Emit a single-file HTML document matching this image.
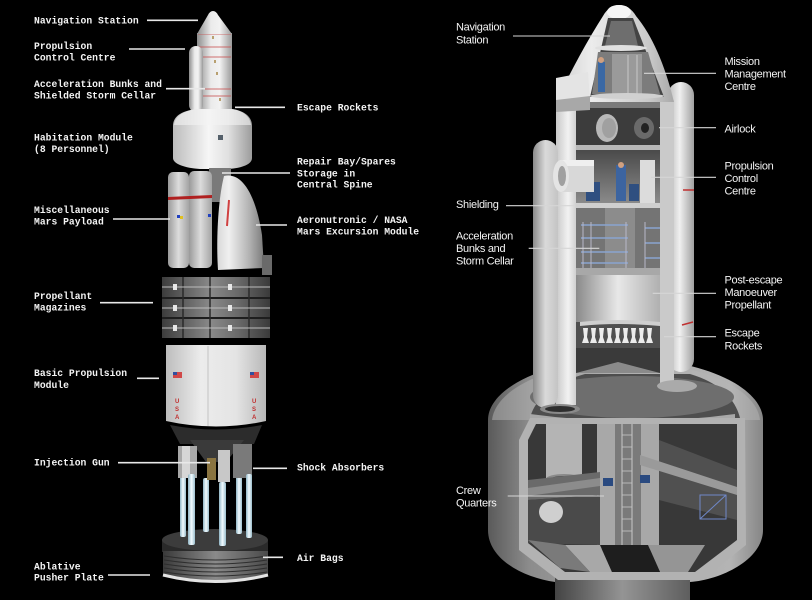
<!DOCTYPE html>
<html><head><meta charset="utf-8">
<style>
html,body{margin:0;padding:0;background:#000;}
svg{display:block}
.m{font-family:"Liberation Mono",monospace;font-weight:bold;font-size:9.7px;fill:#f4f4f4;}
.s{font-family:"Liberation Sans",sans-serif;font-size:11px;letter-spacing:-0.3px;fill:#f4f4f4;}
.ll{stroke:#e8e8e8;stroke-width:1.6;}
.rl{stroke:#d6d6d6;stroke-width:1.1;}
</style></head>
<body>
<svg width="812" height="600" viewBox="0 0 812 600" xmlns="http://www.w3.org/2000/svg">
<defs>
 <linearGradient id="cyl" x1="0" x2="1" y1="0" y2="0">
  <stop offset="0" stop-color="#8c8c8c"/><stop offset="0.4" stop-color="#ebebeb"/><stop offset="0.65" stop-color="#f2f2f2"/><stop offset="1" stop-color="#9a9a9a"/>
 </linearGradient>
 <linearGradient id="hab" x1="0" x2="1" y1="0" y2="0">
  <stop offset="0" stop-color="#bcbcbc"/><stop offset="0.45" stop-color="#f6f6f6"/><stop offset="0.7" stop-color="#e0e0e0"/><stop offset="1" stop-color="#9c9c9c"/>
 </linearGradient>
 <linearGradient id="pay" x1="0" x2="1" y1="0" y2="0">
  <stop offset="0" stop-color="#9a9a9a"/><stop offset="0.5" stop-color="#dcdcdc"/><stop offset="1" stop-color="#a4a4a4"/>
 </linearGradient>
 <linearGradient id="mem" x1="0" x2="1" y1="0" y2="0">
  <stop offset="0" stop-color="#d8d8d8"/><stop offset="0.25" stop-color="#f0f0f0"/><stop offset="0.7" stop-color="#b0b0b0"/><stop offset="1" stop-color="#7a7a7a"/>
 </linearGradient>
 <linearGradient id="mag" x1="0" x2="1" y1="0" y2="0">
  <stop offset="0" stop-color="#3c3c3c"/><stop offset="0.45" stop-color="#8a8a8a"/><stop offset="0.7" stop-color="#6a6a6a"/><stop offset="1" stop-color="#3a3a3a"/>
 </linearGradient>
 <linearGradient id="bpm" x1="0" x2="1" y1="0" y2="0">
  <stop offset="0" stop-color="#bdbdbd"/><stop offset="0.35" stop-color="#ececec"/><stop offset="0.7" stop-color="#e4e4e4"/><stop offset="1" stop-color="#b8b8b8"/>
 </linearGradient>
 <linearGradient id="pil" x1="0" x2="1" y1="0" y2="0">
  <stop offset="0" stop-color="#8fb4c4"/><stop offset="0.5" stop-color="#f2fbff"/><stop offset="1" stop-color="#9cbecc"/>
 </linearGradient>
 <linearGradient id="bag" x1="0" x2="1" y1="0" y2="0">
  <stop offset="0" stop-color="#3a3a3a"/><stop offset="0.5" stop-color="#8a8a8a"/><stop offset="1" stop-color="#4a4a4a"/>
 </linearGradient>
 <linearGradient id="rtube" x1="0" x2="1" y1="0" y2="0">
  <stop offset="0" stop-color="#b8b8b8"/><stop offset="0.45" stop-color="#f0f0f0"/><stop offset="1" stop-color="#a0a0a0"/>
 </linearGradient>
 <linearGradient id="ltube" x1="0" x2="1" y1="0" y2="0">
  <stop offset="0" stop-color="#8a8a8a"/><stop offset="0.5" stop-color="#dadada"/><stop offset="1" stop-color="#c4c4c4"/>
 </linearGradient>
 <linearGradient id="wall" x1="0" x2="1" y1="0" y2="0">
  <stop offset="0" stop-color="#c8c8c8"/><stop offset="0.6" stop-color="#f2f2f2"/><stop offset="1" stop-color="#d0d0d0"/>
 </linearGradient>
 <linearGradient id="cone" x1="0" x2="1" y1="0" y2="0">
  <stop offset="0" stop-color="#cfcfcf"/><stop offset="0.3" stop-color="#ececec"/><stop offset="0.8" stop-color="#c8c8c8"/><stop offset="1" stop-color="#a8a8a8"/>
 </linearGradient>
 <linearGradient id="sph" x1="0" x2="1" y1="0" y2="0">
  <stop offset="0" stop-color="#5a5a5a"/><stop offset="0.15" stop-color="#8c8c8c"/><stop offset="0.5" stop-color="#a8a8a8"/><stop offset="0.88" stop-color="#b4b4b4"/><stop offset="1" stop-color="#868686"/>
 </linearGradient>
 <linearGradient id="tank" x1="0" x2="1" y1="0" y2="0">
  <stop offset="0" stop-color="#8a8a8a"/><stop offset="0.5" stop-color="#e8e8e8"/><stop offset="1" stop-color="#b0b0b0"/>
 </linearGradient>
 <linearGradient id="neck" x1="0" x2="1" y1="0" y2="0">
  <stop offset="0" stop-color="#444"/><stop offset="0.5" stop-color="#949494"/><stop offset="1" stop-color="#5e5e5e"/>
 </linearGradient>
 <linearGradient id="room" x1="0" x2="0" y1="0" y2="1">
  <stop offset="0" stop-color="#4a4a4a"/><stop offset="1" stop-color="#8a8a8a"/>
 </linearGradient>
</defs>

<rect width="812" height="600" fill="#000"/>

<!-- ================= LEFT ROCKET ================= -->
<rect x="197" y="33" width="35" height="80" fill="url(#cyl)"/>
<g stroke="#c85050" stroke-width="1" opacity="0.8">
 <line x1="198" y1="34" x2="231" y2="34"/><line x1="198" y1="47" x2="231" y2="47"/>
 <line x1="198" y1="57" x2="231" y2="57"/><line x1="198" y1="89" x2="231" y2="89"/>
 <line x1="198" y1="96" x2="231" y2="96"/>
</g>
<g fill="#b8a070"><rect x="212" y="36" width="2" height="3"/><rect x="214" y="60" width="2" height="3"/><rect x="216" y="72" width="2" height="3"/><rect x="219" y="98" width="2" height="3"/></g>
<path d="M213 11 Q210 11 208 15 L197 34 L232 34 L218 15 Q216 11 213 11 Z" fill="url(#cyl)"/>
<rect x="189" y="46" width="14" height="66" rx="7" fill="url(#cyl)"/>
<path d="M197 109 C180 111 173 117 173 126 L173 158 C173 164 185 168 200 169 L228 169 C243 168 252 164 252 158 L252 126 C252 117 245 111 232 109 Z" fill="url(#hab)"/>
<path d="M197 109 C182 111 175 117 174 125 L251 125 C250 117 244 111 232 109 Z" fill="#f4f4f4" opacity="0.6"/>
<rect x="218" y="135" width="5" height="5" fill="#55606a"/>
<rect x="209" y="168" width="22" height="34" fill="#7a7a7a"/>
<rect x="168" y="172" width="21" height="96" rx="5" fill="url(#pay)"/>
<rect x="189" y="171" width="23" height="97" rx="5" fill="url(#pay)"/>
<path d="M168 197 L212 195 L212 198 L168 200 Z" fill="#b02020"/>
<rect x="177" y="215" width="3" height="3" fill="#2040c0"/><rect x="180" y="216" width="3" height="3" fill="#e0c020"/>
<rect x="208" y="214" width="3" height="3" fill="#2040c0"/>
<path d="M224 176 C240 172 255 190 262 235 L264 268 L218 270 C216 240 218 200 224 176 Z" fill="url(#mem)"/>
<line x1="229" y1="200" x2="227" y2="226" stroke="#d04040" stroke-width="2"/>
<rect x="262" y="255" width="10" height="20" fill="#6a6a6a"/>
<rect x="162" y="277" width="108" height="61" fill="url(#mag)"/>
<g stroke="#1e1e1e" stroke-width="2"><line x1="162" y1="298" x2="270" y2="298"/><line x1="162" y1="318" x2="270" y2="318"/></g>
<g stroke="#2a2a2a" stroke-width="1.5"><line x1="183" y1="277" x2="183" y2="338"/><line x1="210" y1="277" x2="210" y2="338"/><line x1="249" y1="277" x2="249" y2="338"/></g>
<g stroke="#bcbcbc" stroke-width="1"><line x1="162" y1="287" x2="270" y2="287"/><line x1="162" y1="308" x2="270" y2="308"/><line x1="162" y1="328" x2="270" y2="328"/></g>
<g fill="#e8e8e8"><rect x="173" y="284" width="4" height="6"/><rect x="228" y="284" width="4" height="6"/><rect x="173" y="305" width="4" height="6"/><rect x="228" y="305" width="4" height="6"/><rect x="173" y="325" width="4" height="6"/><rect x="228" y="325" width="4" height="6"/></g>
<path d="M166 345 L266 345 L266 421 Q216 432 166 421 Z" fill="url(#bpm)"/>
<line x1="208" y1="346" x2="208" y2="426" stroke="#c4c4c4" stroke-width="1"/>
<rect x="173" y="372" width="9" height="6" fill="#d04848"/><rect x="173" y="372" width="4" height="3" fill="#3050a0"/>
<rect x="250" y="372" width="9" height="6" fill="#d04848"/><rect x="250" y="372" width="4" height="3" fill="#3050a0"/>
<g font-family="Liberation Sans,sans-serif" font-size="6" fill="#c03030" font-weight="bold">
 <text x="175" y="403">U</text><text x="175" y="411">S</text><text x="175" y="419">A</text>
 <text x="252" y="403">U</text><text x="252" y="411">S</text><text x="252" y="419">A</text>
</g>
<path d="M170 425 Q216 434 262 425 L254 444 L180 444 Z" fill="#2c2c2c"/>
<path d="M190 440 L244 440 L226 462 L206 462 Z" fill="#3a3a3a"/>
<rect x="162" y="540" width="106" height="12" fill="#2a2a2a"/>
<ellipse cx="215" cy="540" rx="53" ry="11" fill="#3c3c3c"/>
<rect x="203" y="478" width="6" height="54" rx="2" fill="url(#pil)"/>
<rect x="236" y="470" width="6" height="64" rx="2" fill="url(#pil)"/>
<rect x="180" y="470" width="6" height="67" rx="2" fill="url(#pil)"/>
<rect x="178" y="446" width="19" height="32" fill="#a8a8a8"/>
<rect x="182" y="446" width="8" height="32" fill="#d6d6d6"/>
<rect x="233" y="444" width="19" height="34" fill="#7a7a7a"/>
<rect x="207" y="458" width="9" height="22" fill="#8a7440"/>
<rect x="218" y="450" width="12" height="32" fill="#c8c8c8"/>
<rect x="188" y="474" width="7" height="71" rx="2" fill="url(#pil)"/>
<rect x="219" y="482" width="7" height="64" rx="2" fill="url(#pil)"/>
<rect x="246" y="474" width="6" height="64" rx="2" fill="url(#pil)"/>
<path d="M163 551 L268 551 L268 575 Q215 586 163 575 Z" fill="url(#bag)"/>
<g stroke="#2e2e2e" stroke-width="1">
 <path d="M164 556 Q215 564 267 556" fill="none"/><path d="M164 560 Q215 568 267 560" fill="none"/>
 <path d="M164 564 Q215 572 267 564" fill="none"/><path d="M164 568 Q215 576 267 568" fill="none"/>
 <path d="M164 572 Q215 580 267 572" fill="none"/>
</g>
<path d="M163 575 Q215 588 268 575" fill="none" stroke="#e4e4e4" stroke-width="3"/>

<!-- ================= RIGHT CUTAWAY ================= -->
<path d="M488 530 L488 420 C488 390 540 360 625 358 C715 360 763 392 763 420 L763 530 C763 560 720 580 690 582 L555 582 C525 578 488 560 488 530 Z" fill="url(#sph)"/>
<path d="M492 420 C495 392 540 364 625 361 C712 364 757 392 760 420 Z" fill="#b6b6b6" opacity="0.5"/>
<rect x="555" y="572" width="135" height="28" fill="url(#neck)"/>
<path d="M530 418 C535 398 555 382 585 374 L690 374 C718 382 735 398 740 418 Z" fill="#4e4e4e"/>
<ellipse cx="632" cy="397" rx="102" ry="21" fill="#6e6e6e"/>
<path d="M530 414 Q632 428 735 414 L735 420 Q632 434 530 420 Z" fill="#a8a8a8"/>
<path d="M519 550 L519 440 L530 418 L745 418 L746 545 L702 580 L558 580 Z" fill="#b2b2b2"/>
<path d="M528 543 L528 440 L536 424 L737 424 L737 540 L695 572 L565 572 Z" fill="#383838"/>
<rect x="546" y="424" width="36" height="56" fill="#b4b4b4"/>
<ellipse cx="564" cy="479" rx="18" ry="5" fill="#8a8a8a"/>
<ellipse cx="564" cy="479" rx="13" ry="3" fill="#333"/>
<rect x="597" y="424" width="62" height="125" fill="#a8a8a8"/>
<rect x="615" y="424" width="26" height="125" fill="#7a7a7a"/>
<g stroke="#c8c8c8" stroke-width="1"><line x1="622" y1="424" x2="622" y2="570"/><line x1="632" y1="424" x2="632" y2="570"/></g>
<g stroke="#c8c8c8" stroke-width="0.8"><line x1="622" y1="435" x2="632" y2="435"/><line x1="622" y1="447" x2="632" y2="447"/><line x1="622" y1="459" x2="632" y2="459"/><line x1="622" y1="471" x2="632" y2="471"/><line x1="622" y1="483" x2="632" y2="483"/><line x1="622" y1="495" x2="632" y2="495"/><line x1="622" y1="507" x2="632" y2="507"/><line x1="622" y1="519" x2="632" y2="519"/><line x1="622" y1="531" x2="632" y2="531"/></g>
<path d="M659 440 L737 470 L737 520 L659 500 Z" fill="#505050"/>
<path d="M528 480 L600 472 L600 495 L528 500 Z" fill="#6a6a6a"/>
<path d="M528 500 L600 495 L600 545 L528 543 Z" fill="#4a4a4a"/>
<ellipse cx="551" cy="512" rx="12" ry="11" fill="#cfcfcf"/>
<path d="M640 455 L737 487 L737 495 L640 465 Z" fill="#9a9a9a"/>
<path d="M528 488 L600 478 L600 486 L528 496 Z" fill="#8c8c8c"/>
<g stroke="#6f88c8" stroke-width="1" fill="none"><rect x="700" y="495" width="26" height="24"/><line x1="700" y1="519" x2="726" y2="495"/></g>
<rect x="603" y="478" width="10" height="8" fill="#2a4a80"/><rect x="640" y="475" width="10" height="8" fill="#2a4a80"/>
<path d="M565 545 L600 545 L612 572 L590 572 Z" fill="#a8a8a8"/>
<path d="M648 545 L705 545 L688 572 L660 572 Z" fill="#959595"/>
<path d="M600 545 L648 545 L660 572 L612 572 Z" fill="#1e1e1e"/>
<path d="M528 540 L565 545 L590 572 L560 568 Z" fill="#7a7a7a"/>

<rect x="668" y="82" width="26" height="290" rx="13" fill="url(#rtube)"/>
<line x1="683" y1="190" x2="694" y2="190" stroke="#c03030" stroke-width="1.5"/>
<line x1="682" y1="325" x2="693" y2="322" stroke="#c03030" stroke-width="1.5"/>
<rect x="556" y="100" width="20" height="305" fill="url(#wall)"/>
<rect x="660" y="100" width="14" height="288" fill="#cacaca"/>
<ellipse cx="677" cy="386" rx="20" ry="6" fill="#aaaaaa"/>
<rect x="533" y="140" width="25" height="268" rx="12.5" fill="url(#ltube)"/>
<ellipse cx="560" cy="409" rx="20" ry="5" fill="#8a8a8a"/>
<ellipse cx="560" cy="409" rx="15" ry="3" fill="#2e2e2e"/>
<rect x="576" y="100" width="84" height="10" fill="#7a7a7a"/>
<rect x="576" y="108" width="84" height="38" fill="#3c3c3c"/>
<ellipse cx="607" cy="128" rx="11" ry="14" fill="#b8b8b8"/>
<ellipse cx="609" cy="128" rx="7" ry="10" fill="#a0a0a0"/>
<ellipse cx="644" cy="128" rx="10" ry="11" fill="#6a6a6a"/>
<ellipse cx="645" cy="128" rx="4" ry="5" fill="#222"/>
<rect x="576" y="145" width="84" height="5" fill="#b8b8b8"/>
<rect x="576" y="150" width="84" height="53" fill="url(#room)"/>
<rect x="640" y="160" width="15" height="43" fill="#dcdcdc"/>
<rect x="616" y="165" width="10" height="36" fill="#3c64a0"/>
<circle cx="621" cy="165" r="3" fill="#d0a080"/>
<rect x="586" y="182" width="14" height="19" fill="#2f4f80"/>
<rect x="629" y="184" width="10" height="17" fill="#2f4f80"/>
<rect x="560" y="160" width="34" height="32" fill="#d8d8d8"/>
<rect x="560" y="160" width="34" height="6" fill="#efefef"/>
<ellipse cx="561" cy="176" rx="8" ry="16" fill="#e4e4e4"/>
<ellipse cx="562" cy="176" rx="4" ry="10" fill="#a0a0a0"/>
<rect x="576" y="203" width="84" height="5" fill="#cfcfcf"/>
<rect x="576" y="208" width="84" height="60" fill="#747474"/>
<rect x="605" y="208" width="30" height="60" fill="#8c8c8c"/>
<g stroke="#8aa4d0" stroke-width="1.5"><line x1="581" y1="225" x2="628" y2="225"/><line x1="581" y1="238" x2="628" y2="238"/><line x1="581" y1="252" x2="628" y2="252"/><line x1="581" y1="263" x2="628" y2="263"/>
<line x1="645" y1="228" x2="660" y2="228"/><line x1="645" y1="243" x2="660" y2="243"/><line x1="645" y1="258" x2="660" y2="258"/></g>
<g stroke="#b8b8c8" stroke-width="1"><line x1="583" y1="222" x2="583" y2="268"/><line x1="591" y1="222" x2="591" y2="268"/><line x1="626" y1="222" x2="626" y2="268"/><line x1="645" y1="222" x2="645" y2="268"/></g>
<rect x="576" y="268" width="84" height="7" fill="#a8a8a8"/>
<rect x="576" y="275" width="84" height="47" fill="url(#tank)"/>
<rect x="576" y="322" width="84" height="26" fill="#505050"/>
<path d="M580 322 Q618 318 660 322 L660 326 Q618 322 580 326 Z" fill="#cfcfcf"/>
<g fill="#ececec">
 <path d="M583 328 h5 l-1 9 l2 6 h-7 l2 -6 z"/><path d="M591 328 h5 l-1 9 l2 6 h-7 l2 -6 z"/><path d="M599 328 h5 l-1 9 l2 6 h-7 l2 -6 z"/><path d="M607 328 h5 l-1 9 l2 6 h-7 l2 -6 z"/><path d="M615 328 h5 l-1 9 l2 6 h-7 l2 -6 z"/><path d="M623 328 h5 l-1 9 l2 6 h-7 l2 -6 z"/><path d="M631 328 h5 l-1 9 l2 6 h-7 l2 -6 z"/><path d="M639 328 h5 l-1 9 l2 6 h-7 l2 -6 z"/><path d="M647 328 h5 l-1 9 l2 6 h-7 l2 -6 z"/>
</g>
<rect x="576" y="348" width="84" height="25" fill="#3a3a3a"/>
<path d="M576 373 L618 362 L660 373 Z" fill="#8a8a8a"/>
<path d="M619 5 C612 5 607 9 603 16 Q580 52 556 102 L674 102 Q660 45 636 16 C632 9 626 5 619 5 Z" fill="url(#cone)"/>
<ellipse cx="619" cy="12" rx="12" ry="7" fill="#f6f6f6"/>
<path d="M608 18 L633 18 L664 97 L590 97 Z" fill="#444"/>
<path d="M611 21 L632 21 L638 46 L605 46 Z" fill="#6e6e6e"/>
<ellipse cx="621" cy="48" rx="26" ry="3" fill="#e0e0e0"/>
<path d="M598 52 L648 52 L660 94 L592 94 Z" fill="#7c7c7c"/>
<rect x="612" y="54" width="30" height="40" fill="#9a9a9a"/>
<g stroke="#c8c8c8" stroke-width="1"><line x1="628" y1="55" x2="628" y2="94"/><line x1="637" y1="55" x2="637" y2="94"/></g>
<rect x="598" y="62" width="7" height="30" fill="#3a68a4"/>
<circle cx="601" cy="60" r="3" fill="#d0a080"/>
<ellipse cx="627" cy="96" rx="37" ry="3" fill="#d0d0d0"/>
<path d="M556 78 L588 72 L590 100 L556 108 Z" fill="#e4e4e4"/>
<path d="M556 100 L590 96 L590 110 L556 112 Z" fill="#a8a8a8"/>

<!-- ================= LEFT LABELS ================= -->
<text class="m" x="34" y="23.3">Navigation Station</text>
<text class="m" x="34" y="48.8">Propulsion</text>
<text class="m" x="34" y="60.6">Control Centre</text>
<text class="m" x="34" y="87">Acceleration Bunks and</text>
<text class="m" x="34" y="98.7">Shielded Storm Cellar</text>
<text class="m" x="297" y="110.5">Escape Rockets</text>
<text class="m" x="34" y="140.5">Habitation Module</text>
<text class="m" x="34" y="152">(8 Personnel)</text>
<text class="m" x="297" y="164.7">Repair Bay/Spares</text>
<text class="m" x="297" y="176.3">Storage in</text>
<text class="m" x="297" y="187.7">Central Spine</text>
<text class="m" x="34" y="213">Miscellaneous</text>
<text class="m" x="34" y="224.5">Mars Payload</text>
<text class="m" x="297" y="223">Aeronutronic / NASA</text>
<text class="m" x="297" y="234.7">Mars Excursion Module</text>
<text class="m" x="34" y="299">Propellant</text>
<text class="m" x="34" y="310.5">Magazines</text>
<text class="m" x="34" y="376">Basic Propulsion</text>
<text class="m" x="34" y="388">Module</text>
<text class="m" x="34" y="465.5">Injection Gun</text>
<text class="m" x="297" y="470.5">Shock Absorbers</text>
<text class="m" x="297" y="561">Air Bags</text>
<text class="m" x="34" y="569.5">Ablative</text>
<text class="m" x="34" y="580.5">Pusher Plate</text>

<g class="ll">
 <line x1="147" y1="20.3" x2="198" y2="20.3"/>
 <line x1="129" y1="49" x2="185" y2="49"/>
 <line x1="166" y1="88.7" x2="205" y2="88.7"/>
 <line x1="235" y1="107.3" x2="285" y2="107.3"/>
 <line x1="222" y1="173" x2="290" y2="173"/>
 <line x1="113" y1="219" x2="170" y2="219"/>
 <line x1="256" y1="225" x2="287" y2="225"/>
 <line x1="100" y1="302.7" x2="153" y2="302.7"/>
 <line x1="137" y1="378.3" x2="159" y2="378.3"/>
 <line x1="118" y1="462.7" x2="210" y2="462.7"/>
 <line x1="253" y1="468.3" x2="287" y2="468.3"/>
 <line x1="263" y1="557.3" x2="283" y2="557.3"/>
 <line x1="108" y1="575" x2="150" y2="575"/>
</g>

<!-- ================= RIGHT LABELS ================= -->
<text class="s" x="456" y="30.7">Navigation</text>
<text class="s" x="456" y="43.3">Station</text>
<text class="s" x="724.5" y="65">Mission</text>
<text class="s" x="724.5" y="77.7">Management</text>
<text class="s" x="724.5" y="90">Centre</text>
<text class="s" x="724.5" y="132.3">Airlock</text>
<text class="s" x="724.5" y="169.3">Propulsion</text>
<text class="s" x="724.5" y="182">Control</text>
<text class="s" x="724.5" y="194.5">Centre</text>
<text class="s" x="456" y="208">Shielding</text>
<text class="s" x="456" y="239.3">Acceleration</text>
<text class="s" x="456" y="252">Bunks and</text>
<text class="s" x="456" y="264.5">Storm Cellar</text>
<text class="s" x="724.5" y="283.3">Post-escape</text>
<text class="s" x="724.5" y="296">Manoeuver</text>
<text class="s" x="724.5" y="308.5">Propellant</text>
<text class="s" x="724.5" y="336.7">Escape</text>
<text class="s" x="724.5" y="349.3">Rockets</text>
<text class="s" x="456" y="494">Crew</text>
<text class="s" x="456" y="506.5">Quarters</text>

<g class="rl">
 <line x1="513" y1="36" x2="610" y2="36"/>
 <line x1="644" y1="73.3" x2="716" y2="73.3"/>
 <line x1="659" y1="127.7" x2="716" y2="127.7"/>
 <line x1="651" y1="177.3" x2="716" y2="177.3"/>
 <line x1="506" y1="205.7" x2="574" y2="205.7"/>
 <line x1="528.7" y1="248.3" x2="599.3" y2="248.3"/>
 <line x1="652.7" y1="293.3" x2="716" y2="293.3"/>
 <line x1="664" y1="336.7" x2="716" y2="336.7"/>
 <line x1="507.7" y1="496" x2="604" y2="496"/>
</g>
</svg>
</body></html>
